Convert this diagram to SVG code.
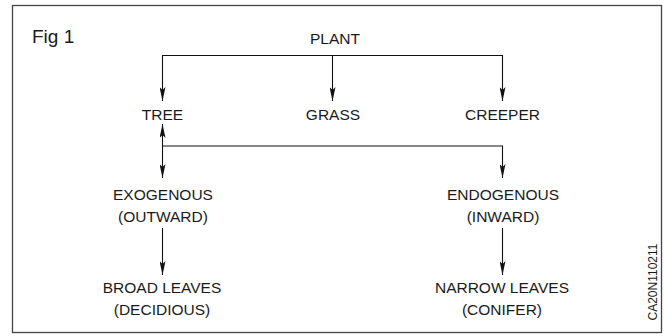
<svg xmlns="http://www.w3.org/2000/svg" width="664" height="336" viewBox="0 0 664 336">
<defs>
<marker id="ah" viewBox="0 0 14 6" refX="14" refY="3" markerWidth="14" markerHeight="6" markerUnits="userSpaceOnUse" orient="auto-start-reverse">
<path d="M0,0 L14,3 L0,6 L3,3 Z" fill="#111"/>
</marker>
</defs>
<style>
text{font-family:"Liberation Sans",Arial,sans-serif;fill:#1a1a1a;font-size:15.5px;text-anchor:middle}
.c{fill:none;stroke:#111;stroke-width:1.1}
</style>
<rect width="664" height="336" fill="#fff"/>
<rect x="12.5" y="5.5" width="649" height="327" fill="none" stroke="#444" stroke-width="1.3"/>
<text x="32" y="43" style="font-size:19px;text-anchor:start">Fig 1</text>
<g id="plant"><text x="335" y="44">PLANT</text></g>
<g id="tree"><text x="162.5" y="120">TREE</text></g>
<g id="grass"><text x="333" y="120">GRASS</text></g>
<g id="creeper"><text x="502.5" y="120">CREEPER</text></g>
<g id="exogenous"><text x="163" y="200">EXOGENOUS</text><text x="163" y="222">(OUTWARD)</text></g>
<g id="endogenous"><text x="503" y="200">ENDOGENOUS</text><text x="503" y="222">(INWARD)</text></g>
<g id="broad"><text x="162" y="293">BROAD LEAVES</text><text x="162" y="315">(DECIDIOUS)</text></g>
<g id="narrow"><text x="502" y="293">NARROW LEAVES</text><text x="502" y="315">(CONIFER)</text></g>
<g id="connectors">
<path class="c" d="M162.5,101 V55.5 H502.5 V101" marker-start="url(#ah)" marker-end="url(#ah)"/>
<path class="c" d="M332.5,55.5 V101" marker-end="url(#ah)"/>
<path class="c" d="M162.5,124 V178" marker-start="url(#ah)" marker-end="url(#ah)"/>
<path class="c" d="M162.5,146 H502.5 V178" marker-end="url(#ah)"/>
<path class="c" d="M162.5,228 V275" marker-end="url(#ah)"/>
<path class="c" d="M502.5,228 V275" marker-end="url(#ah)"/>
</g>
<text transform="translate(657,282) rotate(-90)" style="font-size:12px">CA20N110211</text>
</svg>
